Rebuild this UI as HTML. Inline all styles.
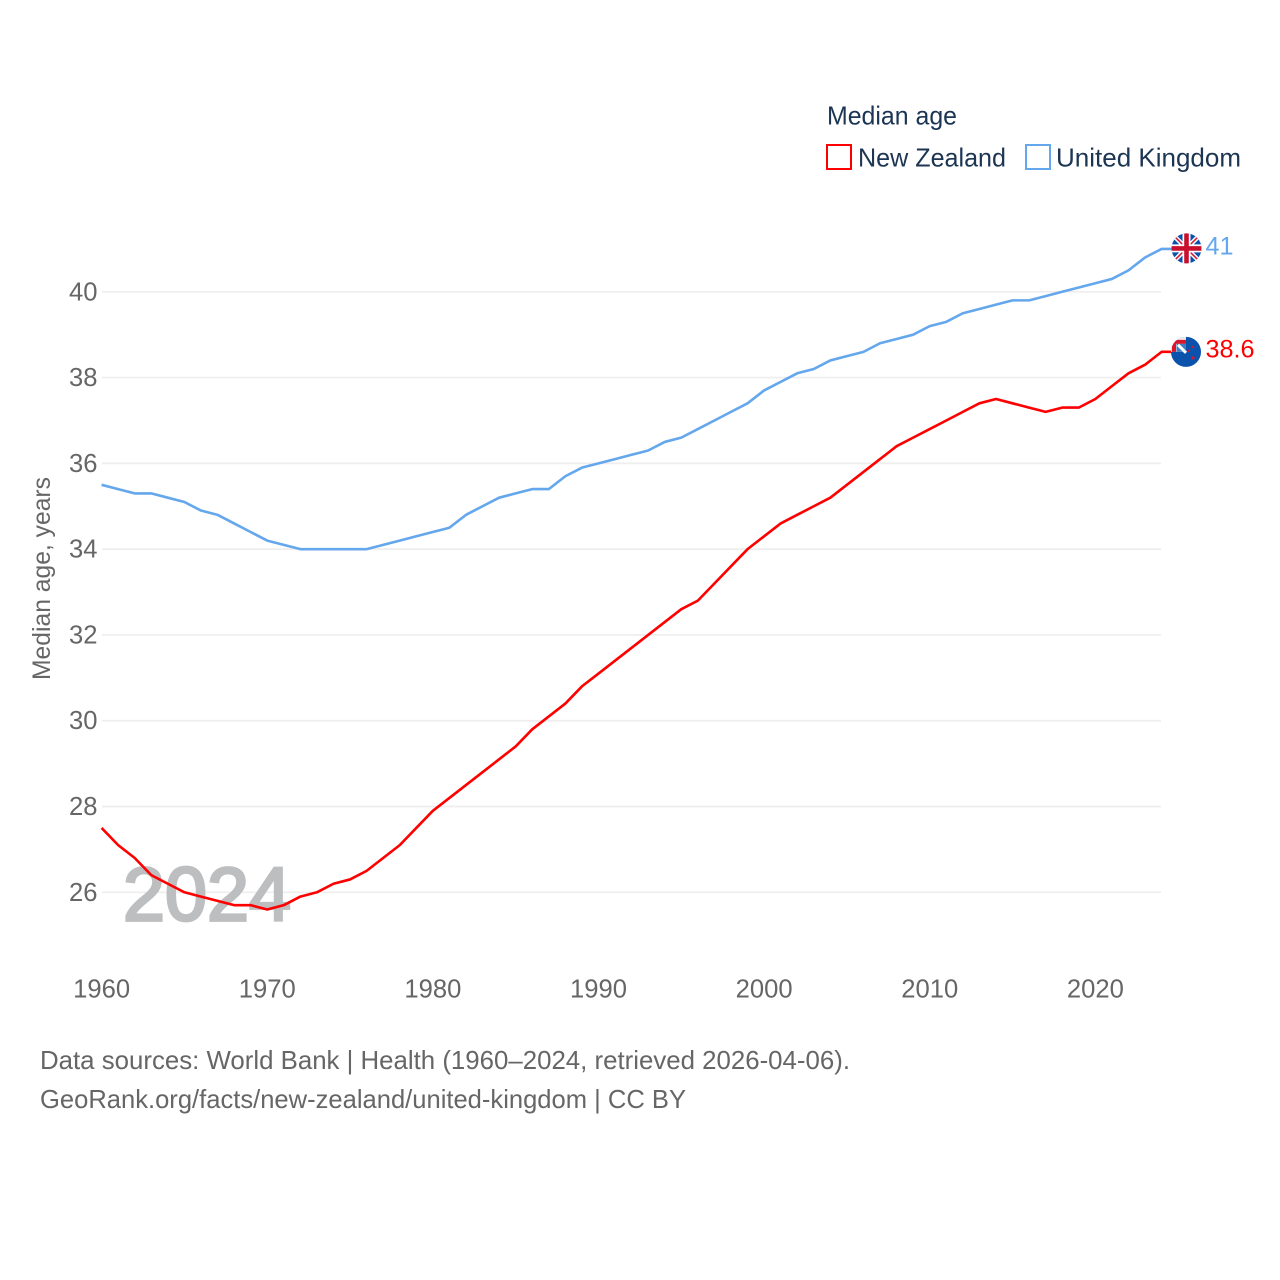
<!DOCTYPE html>
<html lang="en">
<head>
<meta charset="utf-8">
<title>Median age: New Zealand and United Kingdom</title>
<style>
html,body{margin:0;padding:0;background:#fff;width:1280px;height:1280px;overflow:hidden}
svg{display:block}
text{font-family:"Liberation Sans",Arial,sans-serif}
</style>
</head>
<body>
<svg id="chart" width="1280" height="1280" viewBox="0 0 1280 1280" xmlns="http://www.w3.org/2000/svg">
  <defs>
    <clipPath id="flag-clip"><circle cx="0" cy="0" r="15"/></clipPath>
  </defs>
  <rect width="1280" height="1280" fill="#fff"/>
  <g id="grid"></g>
  <text x="123" y="920.5" font-size="76" font-weight="400" fill="#bdbec0" stroke="#bdbec0" stroke-width="2.8" textLength="168" lengthAdjust="spacingAndGlyphs">2024</text>
  <g id="y-ticks"></g>
  <g id="x-ticks"></g>
  <text transform="translate(50,680) rotate(-90)" font-size="25" fill="#666" textLength="203" lengthAdjust="spacingAndGlyphs">Median age, years</text>
  <g id="series"></g>
  <g id="ends"></g>

  <g>
    <text x="827" y="124.5" font-size="26" fill="#1c3553" textLength="130" lengthAdjust="spacingAndGlyphs">Median age</text>
    <g>
      <rect x="827" y="145" width="24" height="24" fill="#fff" stroke="#ff0000" stroke-width="2"/>
      <text x="858" y="166.5" font-size="26" fill="#1c3553" textLength="148" lengthAdjust="spacingAndGlyphs">New Zealand</text>
    </g>
    <g>
      <rect x="1026" y="145" width="24" height="24" fill="#fff" stroke="#64a7ec" stroke-width="2"/>
      <text x="1056" y="166.5" font-size="26" fill="#1c3553" textLength="185" lengthAdjust="spacingAndGlyphs">United Kingdom</text>
    </g>
  </g>

  <text x="40" y="1069" font-size="26" fill="#666" textLength="810" lengthAdjust="spacingAndGlyphs">Data sources: World Bank | Health (1960–2024, retrieved 2026-04-06).</text>
  <text x="40" y="1108" font-size="26" fill="#666" textLength="646" lengthAdjust="spacingAndGlyphs">GeoRank.org/facts/new-zealand/united-kingdom | CC BY</text>
</svg>
<script>
const years = [1960,1961,1962,1963,1964,1965,1966,1967,1968,1969,1970,1971,1972,1973,1974,1975,1976,1977,1978,1979,1980,1981,1982,1983,1984,1985,1986,1987,1988,1989,1990,1991,1992,1993,1994,1995,1996,1997,1998,1999,2000,2001,2002,2003,2004,2005,2006,2007,2008,2009,2010,2011,2012,2013,2014,2015,2016,2017,2018,2019,2020,2021,2022,2023,2024];
const newZealand = [27.5,27.1,26.8,26.4,26.2,26.0,25.9,25.8,25.7,25.7,25.6,25.7,25.9,26.0,26.2,26.3,26.5,26.8,27.1,27.5,27.9,28.2,28.5,28.8,29.1,29.4,29.8,30.1,30.4,30.8,31.1,31.4,31.7,32.0,32.3,32.6,32.8,33.2,33.6,34.0,34.3,34.6,34.8,35.0,35.2,35.5,35.8,36.1,36.4,36.6,36.8,37.0,37.2,37.4,37.5,37.4,37.3,37.2,37.3,37.3,37.5,37.8,38.1,38.3,38.6];
const unitedKingdom = [35.5,35.4,35.3,35.3,35.2,35.1,34.9,34.8,34.6,34.4,34.2,34.1,34.0,34.0,34.0,34.0,34.0,34.1,34.2,34.3,34.4,34.5,34.8,35.0,35.2,35.3,35.4,35.4,35.7,35.9,36.0,36.1,36.2,36.3,36.5,36.6,36.8,37.0,37.2,37.4,37.7,37.9,38.1,38.2,38.4,38.5,38.6,38.8,38.9,39.0,39.2,39.3,39.5,39.6,39.7,39.8,39.8,39.9,40.0,40.1,40.2,40.3,40.5,40.8,41.0];
const yTickValues = [26,28,30,32,34,36,38,40];
const xTickValues = [1960,1970,1980,1990,2000,2010,2020];

const NS = 'http://www.w3.org/2000/svg';
function xScale(year){ return 101.6 + (year - 1960) * (1161.6 - 101.6) / 64; }
function yScale(v){ return 291.8 + (40 - v) * (892.3 - 291.8) / 14; }
function make(tag, attrs, parent){
  const el = document.createElementNS(NS, tag);
  for (const k in attrs) el.setAttribute(k, attrs[k]);
  parent.appendChild(el);
  return el;
}

const gridG = document.getElementById('grid');
const yG = document.getElementById('y-ticks');
yTickValues.forEach(function(v){
  const line = make('line', {x1:102, x2:1161, y1:yScale(v), y2:yScale(v), stroke:'#eeeeee', 'stroke-width':1.7}, gridG);
  
  
  const t = make('text', {x:97.5, y:yScale(v)+8.5, 'text-anchor':'end', 'font-size':25.6, fill:'#666'}, yG);
  
  
  t.textContent = v;
});

const xG = document.getElementById('x-ticks');
xTickValues.forEach(function(y){
  const t = make('text', {x:xScale(y), y:997.5, 'text-anchor':'middle', 'font-size':25.6, fill:'#666'}, xG);
  
  
  t.textContent = y;
});

const seriesG = document.getElementById('series');
const endsG = document.getElementById('ends');
const flagX = 1186;

function drawSeries(values, color, lineName, labelName){
  let d = '';
  values.forEach(function(v, i){
    d += (i ? 'L' : 'M') + xScale(years[i]).toFixed(2) + ' ' + yScale(v).toFixed(2);
  });
  const last = values[values.length - 1];
  d += 'L' + flagX + ' ' + yScale(last).toFixed(2);
  const p = make('path', {d:d, fill:'none', stroke:color, 'stroke-width':2.6, 'stroke-linejoin':'round'}, seriesG);
  
  
  const t = make('text', {x:1205.5, y:yScale(last)+5.5, 'font-size':25.2, fill:color}, endsG);
  
  
  t.textContent = last;
}
drawSeries(unitedKingdom, '#64a7ec', 'line-united-kingdom', 'end-value-united-kingdom');
drawSeries(newZealand, '#ff0000', 'line-new-zealand', 'end-value-new-zealand');

function drawUkFlag(){
  const g = make('g', {transform:'translate(' + (flagX + 0.5) + ',' + (yScale(unitedKingdom[unitedKingdom.length-1]) - 0.5) + ')', 'clip-path':'url(#flag-clip)'}, endsG);
  
  
  make('rect', {x:-16, y:-16, width:32, height:32, fill:'#0b52ad'}, g);
  make('path', {d:'M-16 -16L16 16M16 -16L-16 16', stroke:'#fff', 'stroke-width':4.5}, g);
  make('path', {d:'M-16 -16L16 16M16 -16L-16 16', stroke:'#d0203a', 'stroke-width':1.6}, g);
  make('path', {d:'M0 -16V16M-16 0H16', stroke:'#fff', 'stroke-width':8}, g);
  make('path', {d:'M0 -16V16M-16 0H16', stroke:'#c8102e', 'stroke-width':4.6}, g);
}
function drawNzFlag(){
  const g = make('g', {transform:'translate(' + flagX + ',' + yScale(newZealand[newZealand.length-1]) + ')'}, endsG);
  
  
  const c = make('g', {'clip-path':'url(#flag-clip)'}, g);
  make('rect', {x:-16, y:-16, width:32, height:32, fill:'#0b52ad'}, c);
  make('rect', {x:-16, y:-16, width:16, height:16, fill:'#f4e8e8'}, c);
  make('path', {d:'M-12 0V-10H0', fill:'none', stroke:'#d8162c', 'stroke-width':4}, c);
  make('rect', {x:-9.5, y:-8, width:9.5, height:8, fill:'#3f7cc4'}, c);
  make('path', {d:'M-8 -7L0 1', stroke:'#fff', 'stroke-width':3}, c);
  make('circle', {cx:7, cy:-5, r:1.2, fill:'#d8162c'}, c);
  make('circle', {cx:3, cy:-1, r:1.2, fill:'#d8162c'}, c);
  make('circle', {cx:7, cy:6, r:1.6, fill:'#d8162c'}, c);
}
drawUkFlag();
drawNzFlag();
</script>
</body>
</html>
